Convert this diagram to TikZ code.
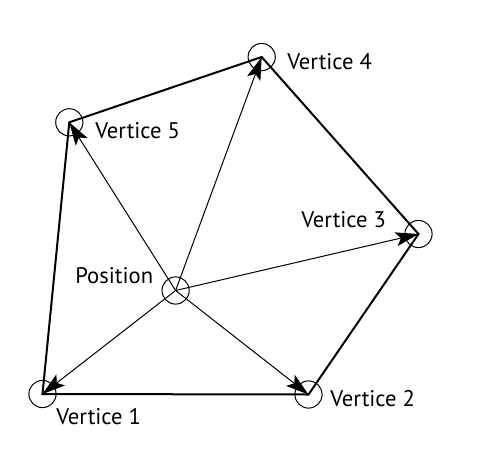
\documentclass[tikz,border=0pt]{standalone}
\usepackage{fontspec}
\setmainfont{PT Sans}
\usetikzlibrary{arrows.meta, positioning}

\begin{document}
\begin{tikzpicture}[
    x=0.5pt, y=-0.5pt,
    vtx/.style={draw, circle, line width=0.5pt, minimum size=13.6pt, inner sep=0pt},
    edge/.style={line width=1pt, line join=miter},
    ray/.style={-{Stealth[length=11.5pt, width=7pt, inset=2.5pt]}, line width=0.5pt},
    lbl/.style={font=\fontsize{11.3}{13}\selectfont, anchor=base west, inner sep=0pt},
  ]
    \useasboundingbox (0,0) rectangle (483,456);

    % Circles at the vertices and the position
    \node[vtx] (pos) at (175.6,290.5) {};
    \node[vtx] (v1) at (42.5,394) {};
    \node[vtx] (v2) at (308.5,394.5) {};
    \node[vtx] (v3) at (418.5,234) {};
    \node[vtx] (v4) at (261.7,57) {};
    \node[vtx] (v5) at (69.3,122.3) {};

    % Labels
    \node[lbl] (l1) at (56,424.3) {Vertice 1};
    \node[lbl] (l2) at (330,406.7) {Vertice 2};
    \node[lbl] (l3) at (301,227.3) {Vertice 3};
    \node[lbl] (l4) at (287,69) {Vertice 4};
    \node[lbl] (l5) at (95,138.3) {Vertice 5};
    \node[lbl] (lp) at (75,283.5) {Position};

    % Polygon
    \draw[edge] (v1.center) -- (v2.center) -- (v3.center) -- (v4.center)
      -- (v5.center) -- cycle;

    % Rays from the position
    \foreach \v in {v1, v2, v3, v4, v5}
      \draw[ray] (pos.center) -- (\v.center);
  \end{tikzpicture}
\end{document}
